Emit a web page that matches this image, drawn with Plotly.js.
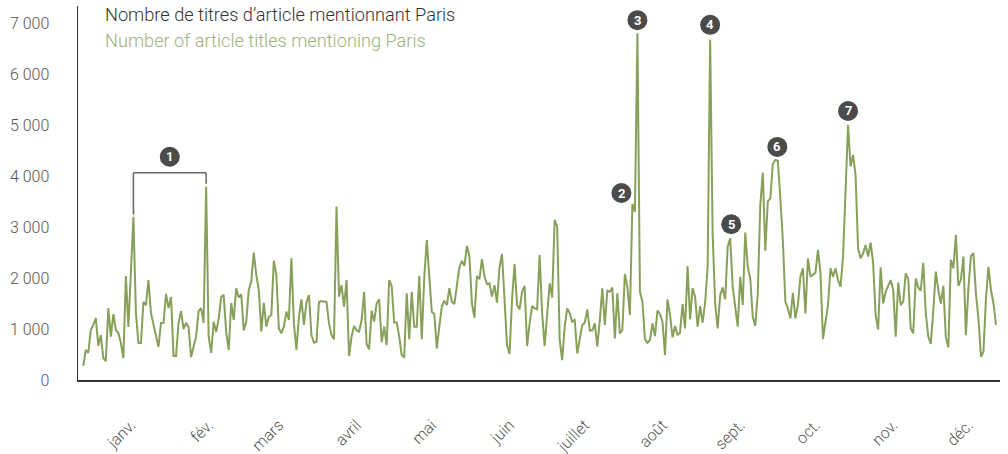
<!DOCTYPE html>
<html><head><meta charset="utf-8">
<script src="https://cdn.plot.ly/plotly-3.0.1.min.js"></script>
<style>html,body{margin:0;padding:0;background:#fff}#chart{width:1008px;height:454px}</style>
</head><body><div id="chart"></div>
<script>
// ---- data ----
const startDate = [2022, 11, 13]; // first day of the daily series (UTC y, m0, d)
const articleCounts = [
275,590,530,980,1080,1215,670,880,430,370,1410,850,1290,980,920,725,430,2040,1040,2100,
3200,
1310,725,725,1530,1470,1960,1310,1100,850,650,1120,1120,1690,1410,1630,470,470,1120,1350,1000,1120,1040,450,650,850,1350,1410,1120,
3790,
850,530,1140,940,1200,1630,1670,940,590,1510,1180,1800,1620,1680,
970,1140,1765,1930,2500,2060,1765,950,1515,1045,1240,1275,2340,2060,1010,915,1045,1340,1175,2385,1110,590,1240,1580,1080,1515,1665,880,730,750,1530,1550,1535,1535,1110,880,800,3400,1635,1860,1440,1960,470,850,1060,970,950,1175,1730,705,600,1360,1145,1505,1580,740,1045,685,1960,1845,1125,1125,850,
490,440,1700,800,1730,1045,1045,2045,800,2025,2745,2025,1340,1295,620,1045,1440,1555,1470,1800,1535,1490,1860,2210,2335,2235,2630,2420,1505,1220,2040,1975,2370,2040,1880,1895,1635,1860,1515,2210,2470,1570,685,510,1570,2275,1470,1385,1730,1845,665,1110,1450,1405,1385,2450,1310,665,1310,1895,1620,3140,2995,785,390,1045,1405,1310,
1145,1175,520,850,1080,1125,1385,970,970,1110,655,1175,1800,1080,1750,1730,1815,815,1700,915,980,2080,1815,1275,3450,3300,6800,1730,1535,800,730,785,1110,860,1360,1295,1145,490,1580,1275,835,1060,880,930,1490,1010,2235,1190,1800,1635,1045,1450,1125,1515,2220,6670,2860,1490,1010,1665,1815,1580,2615,2780,
1830,1440,1045,2025,1470,2890,2220,1990,1240,1060,1700,3430,4065,2535,3500,3560,4235,4315,4300,3560,2745,1535,1405,1210,1710,1210,1470,2025,2190,1305,2385,2025,2060,2105,2550,2105,800,1110,1470,2190,2025,2190,1960,1830,2420,3700,5000,4185,4410,4020,2580,2385,2480,2645,2420,2695,2300,1275,990,2210,1500,1730,1850,1960,1775,850,1910,1470,1535,2090,1975,1010,915,1990,1815,1750,2300,1305,850,705,1370,2125,1765,1500,1845,835,640,2355,2190,2845,1845,1960,2420,880,1800,2430,2485,1700,1210,455,555,1600,2220,1765,1500,1080
];
const monthTickDates = ['2023-01-01','2023-02-01','2023-03-01','2023-04-01','2023-05-01','2023-06-01','2023-07-01','2023-08-01','2023-09-01','2023-10-01','2023-11-01','2023-12-01'];
const monthTickLabels = ['janv.','fév.','mars','avril','mai','juin','juillet','août','sept.','oct.','nov.','déc.'];
const yTickValues = [0,1000,2000,3000,4000,5000,6000,7000];
const yTickLabels = ['0','1 000','2 000','3 000','4 000','5 000','6 000','7 000'];
const titleFr = 'Nombre de titres d’article mentionnant Paris';
const titleEn = 'Number of article titles mentioning Paris';
// callouts: label, index of the day they point at
const calloutLabels = ['2','3','4','5','6','7'];
const calloutIndex = [219,221,250,258,276,305];
const bracketLabel = '1';
const bracketIndex = [20,49];

// ---- helpers ----
const DAY = 86400000;
const t0 = Date.UTC(startDate[0], startDate[1], startDate[2]);
function dateAt(f){ return new Date(t0 + f*DAY).toISOString().slice(0,19).replace('T',' '); }
const dates = articleCounts.map((_, i) => dateAt(i));

// ---- style ----
const lineColor = '#87a05a';
const darkCircle = '#4b4b4b';
const font = {family:'Roboto, sans-serif', size:16, color:'#555', weight:300};
const calloutOffsets = {'2':[-11,11],'3':[0,13],'4':[0,15],'5':[1,14],'6':[2,13],'7':[0,14]};

const shapes = [];
const annotations = [];
function circle(xa, ya, dx, dy, label){
  shapes.push({type:'circle', xref:'x', yref:'y', xsizemode:'pixel', ysizemode:'pixel',
    xanchor:xa, yanchor:ya, x0:dx-10, x1:dx+10, y0:dy-10, y1:dy+10,
    fillcolor:darkCircle, line:{width:0}});
  annotations.push({xref:'x', yref:'y', x:xa, y:ya, xshift:dx, yshift:dy,
    xanchor:'center', yanchor:'middle', showarrow:false, text:'<b>'+label+'</b>',
    font:{family:'Roboto, sans-serif', size:13, color:'#fff'}});
}
calloutLabels.forEach((lab, k) => {
  const i = calloutIndex[k];
  const o = calloutOffsets[lab];
  circle(dates[i], articleCounts[i], o[0], o[1], lab);
});
// bracket
const [b0, b1] = bracketIndex;
const bTop = 44;
const yA = articleCounts[b0], yB = articleCounts[b1];
const pxPerUnit = 374/7333;
const bTopB = bTop - Math.round((yB - yA)*pxPerUnit);
const bracketLine = {color:'#666', width:1.5};
shapes.push({type:'line', xref:'x', yref:'y', ysizemode:'pixel', yanchor:yA, x0:dates[b0], x1:dates[b0], y0:2, y1:bTop, line:bracketLine});
shapes.push({type:'line', xref:'x', yref:'y', ysizemode:'pixel', yanchor:yA, x0:dates[b0], x1:dates[b1], y0:bTop, y1:bTop, line:bracketLine});
shapes.push({type:'line', xref:'x', yref:'y', ysizemode:'pixel', yanchor:yB, x0:dates[b1], x1:dates[b1], y0:3, y1:bTopB, line:bracketLine});
circle(dateAt((b0+b1)/2), yA, 0, bTop+16, bracketLabel);

annotations.push(
  {xref:'paper', yref:'paper', x:0.027, y:0.976, xanchor:'left', yanchor:'middle', showarrow:false,
   text:titleFr, font:{family:'Roboto, sans-serif', size:18.2, color:'#333', weight:300}},
  {xref:'paper', yref:'paper', x:0.027, y:0.909, xanchor:'left', yanchor:'middle', showarrow:false,
   text:titleEn, font:{family:'Roboto, sans-serif', size:18.2, color:'#9cb27a', weight:300}}
);

const trace = {x:dates, y:articleCounts, type:'scatter', mode:'lines',
  line:{color:lineColor, width:2}, hoverinfo:'skip'};

const layout = {
  width:1008, height:454,
  margin:{l:78, r:8, t:6, b:74},
  paper_bgcolor:'#fff', plot_bgcolor:'#fff',
  showlegend:false,
  font:font,
  xaxis:{type:'date', range:[dateAt(-2.1), dateAt(articleCounts.length-1+1.6)],
    tickvals:monthTickDates, ticktext:monthTickLabels, tickangle:-45,
    showgrid:false, zeroline:false, showline:true, linecolor:'#333', linewidth:1.5,
    ticks:'', ticklabelstandoff:28, tickfont:font},
  yaxis:{range:[0,7333], tickvals:yTickValues, ticktext:yTickLabels,
    showgrid:false, zeroline:false, showline:true, linecolor:'#333', linewidth:1.5,
    ticks:'', ticklabelstandoff:24, tickfont:font},
  shapes:shapes,
  annotations:annotations
};
Plotly.newPlot('chart', [trace], layout, {displayModeBar:false, staticPlot:true});
</script></body></html>
